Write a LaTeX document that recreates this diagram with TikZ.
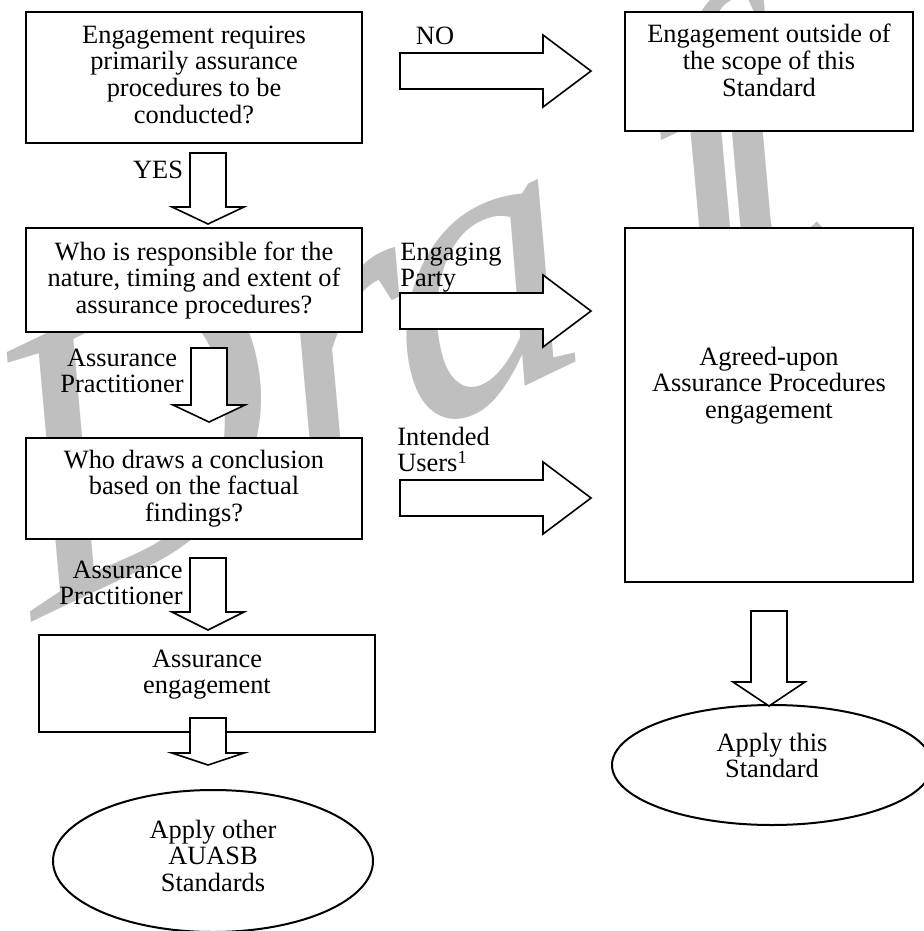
\documentclass[tikz,border=0pt]{standalone}
\usepackage{fontspec}
\setmainfont{Liberation Serif}
\usetikzlibrary{shapes.geometric,calc}

\newdimen\pxu \pxu=0.5pt
\definecolor{wmgray}{gray}{0.75}

\tikzset{
  box/.style={draw, fill=white, line width=1pt, inner sep=0pt, outer sep=0pt},
  oval/.style={ellipse, draw, fill=white, line width=1pt, inner sep=0pt, minimum width=320\pxu},
  lbl/.style={inner sep=0pt, anchor=base},
  fat/.style={draw, fill=white, line width=.8pt, line join=miter},
  wmark/.style={text=wmgray, inner sep=0pt, anchor=base west,
    font=\fontsize{215}{215}\selectfont\itshape},
}

% text set from the top of a box: height, width, first baseline, lines
\newcommand{\boxtext}[4]{\parbox[c][#1\pxu][t]{#2\pxu}{\centering\rule{0pt}{#3\pxu}#4}}
% hollow block arrow: from, to, head length (pt)
\newcommand{\fatarrow}[3]{%
  \coordinate (fa-b) at ($(#2)!#3!(#1)$);
  \draw[fat] ($(#1)!9pt!90:(#2)$) -- ($(fa-b)!9pt!-90:(#1)$) -- ($(fa-b)!18pt!-90:(#1)$)
    -- (#2) -- ($(fa-b)!18pt!90:(#1)$) -- ($(fa-b)!9pt!90:(#1)$) -- ($(#1)!9pt!-90:(#2)$) -- cycle;
}

\begin{document}
\begin{tikzpicture}[x=\pxu, y=-\pxu, font=\fontsize{13.2}{13.45}\selectfont]
  \useasboundingbox (0,0) rectangle (923,931);

  % watermark
  \node[wmark, yslant=0.48, xslant=-0.235, xscale=0.85] (draft) at (35,621) {Dr\kern-15pt a\kern53pt f\kern-33pt t};

  % boxes
  \node[box] (q1) at (194,77.5) {\boxtext{131}{336}{31}{Engagement requires\\primarily assurance\\procedures to be\\conducted?}};
  \node[box] (out) at (769,71.5) {\boxtext{119}{288}{31}{Engagement outside of\\the scope of this\\Standard}};
  \node[box] (q2) at (194,280) {\boxtext{104}{336}{32}{Who is responsible for the\\nature, timing and extent of\\assurance procedures?}};
  \node[box] (aup) at (769,405) {\boxtext{354}{288}{137}{Agreed-upon\\Assurance Procedures\\engagement}};
  \node[box] (q3) at (194,488.5) {\boxtext{101}{336}{30}{Who draws a conclusion\\based on the factual\\findings?}};
  \node[box] (ae) at (207,683.5) {\boxtext{97}{336}{32}{Assurance\\engagement}};
  \node[oval, minimum height=142\pxu] (other) at (213,861) {\boxtext{100}{150}{27}{Apply other\\AUASB\\Standards}};
  \node[oval, minimum height=120\pxu] (this) at (772,765) {\boxtext{80}{150}{26}{Apply this\\Standard}};

  % arrow ends
  \coordinate (no-s) at ($(q1.east)+(38,-6.5)$);
  \coordinate (no-t) at ($(out.west)+(-34,-0.5)$);
  \coordinate (ep-s) at ($(q2.east)+(38,31)$);
  \coordinate (ep-t) at ($(aup.west)+(-34,-94)$);
  \coordinate (iu-s) at ($(q3.east)+(38,9.5)$);
  \coordinate (iu-t) at ($(aup.west)+(-34,93)$);
  \coordinate (yes-s) at ($(q1.south)+(14,10)$);
  \coordinate (yes-t) at ($(q2.north)+(14,-4)$);
  \coordinate (ap-s) at ($(q2.south)+(15,16)$);
  \coordinate (ap-t) at ($(q3.north)+(15,-16)$);
  \coordinate (ap2-s) at ($(q3.south)+(14,19)$);
  \coordinate (ap2-t) at ($(ae.north)+(1,-5)$);
  \coordinate (ae-s) at ($(ae.south)+(1,-14)$);
  \coordinate (ae-t) at ($(other.north)+(-5,-24)$);
  \coordinate (aup-s) at ($(aup.south)+(0,29)$);
  \coordinate (aup-t) at ($(this.north)+(-3,2)$);

  \fatarrow{no-s}{no-t}{24pt}
  \fatarrow{ep-s}{ep-t}{24pt}
  \fatarrow{iu-s}{iu-t}{24pt}
  \fatarrow{yes-s}{yes-t}{8.5pt}
  \fatarrow{ap-s}{ap-t}{8.5pt}
  \fatarrow{ap2-s}{ap2-t}{9pt}
  \fatarrow{ae-s}{ae-t}{6pt}
  \fatarrow{aup-s}{aup-t}{12pt}

  % labels
  \node[lbl] (no) at (435,45) {NO};
  \node[lbl] (yes) at (158,178) {YES};
  \node[lbl] (ap) at (122,366) {\parbox[t]{130\pxu}{\centering Assurance\\Practitioner}};
  \node[lbl, anchor=base west] (ep) at (400,260) {\parbox[t]{100\pxu}{\raggedright Engaging\\Party}};
  \node[lbl, anchor=base west] (iu) at (397,445) {\parbox[t]{100\pxu}{\raggedright Intended\\Users\textsuperscript{1}}};
  \node[lbl, anchor=base east] (ap2) at (183,578) {\parbox[t]{130\pxu}{\raggedleft Assurance\\Practitioner}};
\end{tikzpicture}
\end{document}
